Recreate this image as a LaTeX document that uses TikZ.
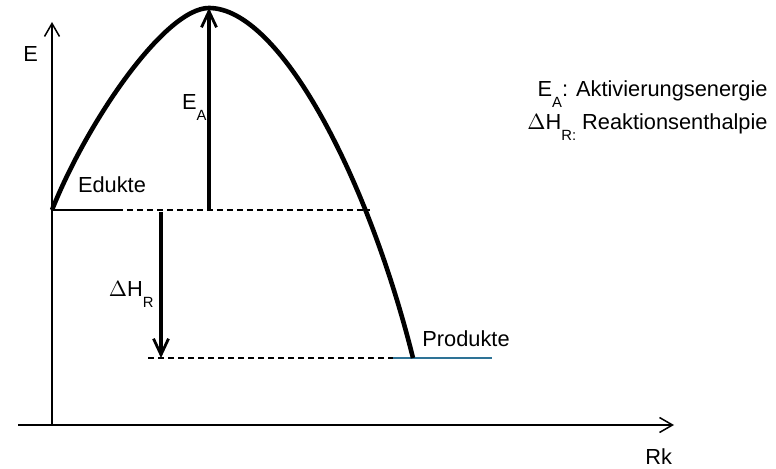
\documentclass[tikz,border=0pt]{standalone}
\usepackage{fontspec}
\setmainfont{Liberation Sans}
\usetikzlibrary{arrows.meta,positioning,calc}
\definecolor{ink}{HTML}{000000}
\definecolor{prodblue}{HTML}{2E7396}
\newcommand{\lsub}[1]{\raisebox{-.5em}{\fontsize{7.4}{8}\selectfont #1}}

\begin{document}
\begin{tikzpicture}[x=.5pt,y=-.5pt,font=\fontsize{10.9}{13}\selectfont,
  axis/.style={ink,line width=.75pt,-{Straight Barb[length=6.5pt,width=7.5pt]}},
  pfeil/.style={ink,line width=1.8pt,-{Straight Barb[length=8pt,width=7.5pt,line width=1.4pt]}},
  niveau/.style={ink,line width=.65pt,dash pattern=on 3pt off 2pt},
  lbl/.style={inner sep=0pt,anchor=base west}]
\useasboundingbox (0,0) rectangle (776,469);
% axes
\coordinate (xstart) at (18,425);
\coordinate (xend) at (674,425);
\coordinate (ystart) at (52,425);
\coordinate (yend) at (52,22);
\draw[axis] (xstart) -- (xend);
\draw[axis] (ystart) -- (yend);
\node[lbl] (elabel) at (23,62) {E};
\node[lbl] (rklabel) at (645,465) {Rk};
% energy levels
\coordinate (edukt) at (52,210);
\coordinate (peak) at (209,8);
\coordinate (produkt) at (413,358);
\coordinate (edend) at (117,210);
\coordinate (edcut) at (370,210);
\coordinate (prstart) at (148,358);
\coordinate (prcut) at (400,358);
\coordinate (blstart) at (393,358);
\coordinate (blend) at (492,358);
\draw[ink,line width=.7pt] (edukt) -- (edend);
\draw[niveau] (edend) -- (edcut);
\draw[niveau] (prstart) -- (prcut);
\draw[prodblue,line width=.8pt] (blstart) -- (blend);
% reaction curve
\draw[ink,line width=2.3pt] (edukt) .. controls (87,122) and (165,8) .. (peak)
  .. controls (279,8) and (367,174) .. (produkt);
\node[lbl,anchor=base] (edlabel) at (112,193) {Edukte};
\node[lbl] (prlabel) at (422,347) {Produkte};
% arrows
\coordinate (eabase) at (209,210);
\coordinate (hstart) at (161,212);
\coordinate (hend) at (161,358);
\draw[pfeil] (eabase) -- (peak);
\draw[pfeil] (hstart) -- (hend);
\node[lbl,anchor=base east] (ealabel) at (207,110) {E\lsub{A}};
\node[lbl,anchor=base east] (hlabel) at (154,297) {$\Delta$H\lsub{R}};
% legend
\node[lbl,anchor=base east] (leg1) at (768,97) {E\lsub{A}: Aktivierungsenergie};
\node[lbl,anchor=base east] (leg2) at (768,130) {$\Delta$H\lsub{R:} Reaktionsenthalpie};
\end{tikzpicture}
\end{document}
